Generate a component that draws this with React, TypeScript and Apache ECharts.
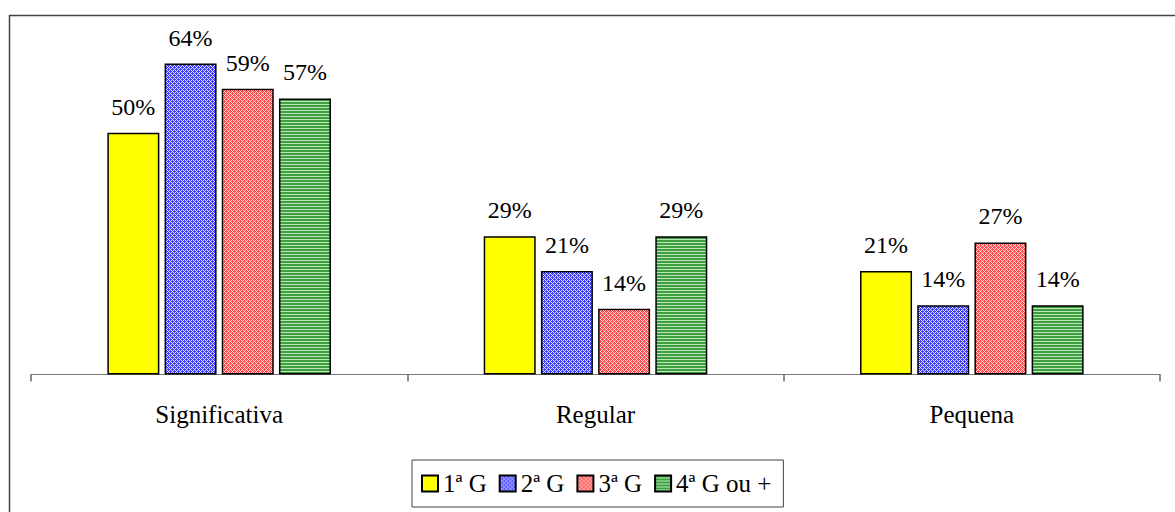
import React, { useEffect, useRef } from "react";
import * as echarts from "echarts";

const categories = ["Significativa", "Regular", "Pequena"];
const seriesNames = ["1ª G", "2ª G", "3ª G", "4ª G ou +"];
const g1 = [50, 28.6, 21.4];
const g2 = [64.3, 21.4, 14.3];
const g3 = [59.1, 13.6, 27.3];
const g4 = [57.1, 28.6, 14.3];

function makePattern(w: number, h: number, fn: (x: number, y: number) => string) {
  const c = document.createElement("canvas");
  c.width = w;
  c.height = h;
  const ctx = c.getContext("2d")!;
  for (let y = 0; y < h; y++) {
    for (let x = 0; x < w; x++) {
      ctx.fillStyle = fn(x, y);
      ctx.fillRect(x, y, 1, 1);
    }
  }
  return { image: c, repeat: "repeat", imageWidth: w, imageHeight: h } as any;
}

const FONT = "Liberation Serif";

export default function App() {
  const ref = useRef<HTMLDivElement>(null);
  useEffect(() => {
    document.body.style.margin = "0";
    if (!ref.current) return;
    const chart = echarts.init(ref.current, undefined, { renderer: "svg" });

    const blue = makePattern(4, 4, (x, y) =>
      (x + y) % 2 === 0 || (x + y) % 4 === 1 && x % 2 === 0 ? "#3c3cff" : "#e4e4ff"
    );
    const red = makePattern(4, 4, (x, y) =>
      (x + y) % 2 === 0 || (x + y) % 4 === 1 && x % 2 === 0 ? "#ff4848" : "#ffe4e4"
    );
    const green = makePattern(3, 3, (x, y) => (y < 2 ? "#3f9f3f" : "#b8e6b8"));
    const fills: any[] = ["#ffff00", blue, red, green];
    const datas = [g1, g2, g3, g4];

    chart.setOption({
      animation: false,
      backgroundColor: "#ffffff",
      textStyle: { fontFamily: FONT },
      grid: { left: 31, right: 15, top: 36, bottom: 137.5, containLabel: false },
      xAxis: {
        type: "category",
        data: categories,
        boundaryGap: true,
        axisLine: { show: true, onZero: false, lineStyle: { color: "#777777", width: 1 } },
        axisTick: { show: true, interval: 0, alignWithLabel: false, length: 7, lineStyle: { color: "#666666", width: 1.5 } },
        axisLabel: { fontFamily: FONT, fontSize: 25, color: "#000000", margin: 27 },
      },
      yAxis: {
        type: "value",
        min: 0,
        max: 70,
        show: false,
        splitLine: { show: false },
      },
      legend: {
        left: 412,
        bottom: 5,
        data: seriesNames,
        itemWidth: 16,
        itemHeight: 16,
        itemGap: 12,
        padding: [11, 12, 11, 9],
        borderColor: "#444444",
        borderWidth: 1,
        textStyle: { fontFamily: FONT, fontSize: 25, color: "#000000" },
        icon: "rect",
      },
      graphic: [
        {
          type: "rect",
          shape: { x: 9.5, y: 15.5, width: 1300, height: 700 },
          style: { fill: "none", stroke: "#444444", lineWidth: 1.5 },
          silent: true,
          z: 100,
        },
      ],
      series: datas.map((d, i) => ({
        name: seriesNames[i],
        type: "bar",
        data: d,
        barWidth: 52,
        barGap: "10%",
        itemStyle: { color: fills[i], borderColor: "#000000", borderWidth: 1.5 },
        label: {
          show: true,
          position: "top",
          distance: 14,
          fontFamily: FONT,
          fontSize: 24,
          color: "#000000",
          formatter: (p: any) => Math.round(p.value) + "%",
        },
      })),
    });
    return () => chart.dispose();
  }, []);
  return <div ref={ref} style={{ width: 1175, height: 512 }} />;
}
